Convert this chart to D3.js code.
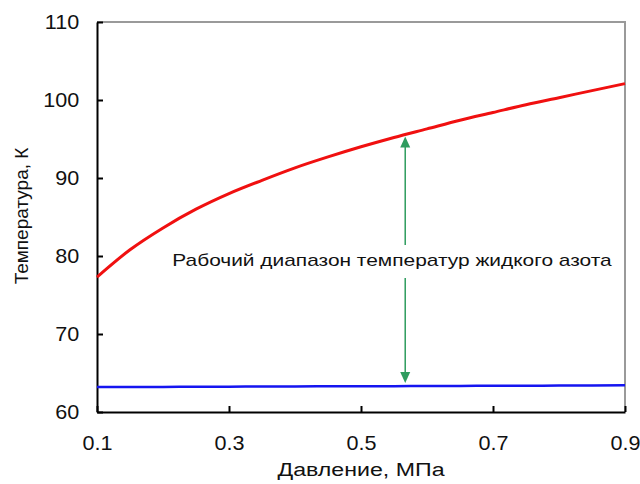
<!DOCTYPE html>
<html><head><meta charset="utf-8">
<script src="https://cdn.jsdelivr.net/npm/d3@7"></script>
<style>body{margin:0;background:#fff}svg{display:block}text{font-family:"Liberation Sans",Arial,sans-serif;fill:#111}</style>
</head><body><svg id="c" width="640" height="484"></svg>
<script>
const pressure = [0.1,0.15,0.2,0.25,0.3,0.35,0.4,0.45,0.5,0.55,0.6,0.65,0.7,0.75,0.8,0.85,0.9];
const boilingT = [77.3,80.8,83.6,86.0,88.0,89.7,91.3,92.7,94.0,95.2,96.3,97.4,98.4,99.4,100.3,101.2,102.1];
const tripleT  = [63.2,63.2,63.22,63.23,63.25,63.26,63.28,63.29,63.3,63.31,63.33,63.34,63.36,63.37,63.39,63.4,63.42];
const xTicks = [0.1,0.3,0.5,0.7,0.9];
const yTicks = [60,70,80,90,100,110];
const arrowP = 0.567;
const label = "Рабочий диапазон температур жидкого азота";

const svg = d3.select("#c");
const x = d3.scaleLinear().domain([0.1,0.9]).range([97,625]);
const y = d3.scaleLinear().domain([60,110]).range([412,22]);

// frame top/right
svg.append("path").attr("d",`M${x(0.1)},${y(110)}H${x(0.9)}V${y(60)}`).attr("fill","none").attr("stroke","#9a9a9a").attr("stroke-width",2);

const gx = svg.append("g").attr("transform",`translate(0,${y(60)})`)
  .call(d3.axisBottom(x).tickValues(xTicks).tickSizeInner(-6).tickSizeOuter(0).tickPadding(24).tickFormat(d3.format(".1f")));
const gy = svg.append("g").attr("transform",`translate(${x(0.1)},0)`)
  .call(d3.axisLeft(y).tickValues(yTicks).tickSizeInner(-6).tickSizeOuter(0).tickPadding(16.5).tickFormat(d3.format("d")));
[gx,gy].forEach(g=>{
  g.select(".domain").attr("stroke","#000").attr("stroke-width",2);
  g.selectAll(".tick line").attr("stroke","#000").attr("stroke-width",2);
  g.selectAll("text").style("font-size","20px").attr("fill","#111").attr("transform","scale(1.08,1)");
});

const line = d3.line().x((d,i)=>x(pressure[i])).y(d=>y(d)).curve(d3.curveMonotoneX);
svg.append("path").attr("d",line(tripleT)).attr("fill","none").attr("stroke","#1515f0").attr("stroke-width",2.5);
svg.append("path").attr("d",line(boilingT)).attr("fill","none").attr("stroke","#f01010").attr("stroke-width",3);

// arrow
const topT = d3.interpolateNumber(95.2,96.3)((arrowP-0.55)/0.05);
const ax = x(arrowP), y1 = y(topT)+2, y2 = y(63.33)-3;
const green = "#2e9c5e";
svg.append("line").attr("x1",ax).attr("x2",ax).attr("y1",y1+10).attr("y2",245).attr("stroke",green).attr("stroke-width",1.5);
svg.append("line").attr("x1",ax).attr("x2",ax).attr("y1",278).attr("y2",y2-10).attr("stroke",green).attr("stroke-width",1.5);
svg.append("path").attr("d",`M${ax},${y1}l-5,11h10z`).attr("fill",green);
svg.append("path").attr("d",`M${ax},${y2}l-5,-11h10z`).attr("fill",green);

svg.append("text").attr("transform","translate(392,266) scale(1.23,1)").attr("text-anchor","middle").style("font-size","17px").text(label);

svg.append("text").attr("transform","translate(361,476) scale(1.22,1)").attr("text-anchor","middle").style("font-size","19px").text("Давление, МПа");
svg.append("text").attr("transform","translate(28,216) rotate(-90)").attr("text-anchor","middle").style("font-size","19px").text("Температура, К");
</script></body></html>
